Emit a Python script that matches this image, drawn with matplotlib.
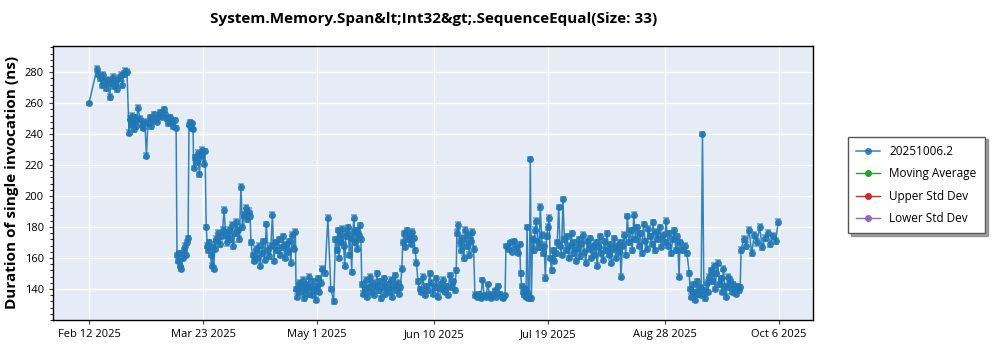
import numpy as np
import pandas as pd
import matplotlib
matplotlib.use("Agg")
import matplotlib.pyplot as plt
from matplotlib.ticker import AutoMinorLocator

plt.rcParams["font.family"] = ["Open Sans", "DejaVu Sans"]

base_date = pd.Timestamp("2025-02-12")

# Each run of results: first / last day (offset from Feb 12) and the timings in between
seg_start = [0, 2.7, 13.7, 17.5, 30.1, 34.2, 35.8, 40.1, 43.6, 55.4, 70.8, 80.7, 84.3,
             93.3, 107.3, 112.5, 125.8, 132.2, 142.6, 147.6, 151.7, 157.7, 181.9,
             202.1, 205.5, 223.0]
seg_end = [0, 13.0, 16.7, 29.8, 33.9, 35.6, 39.7, 43.4, 55.1, 70.6, 79.7, 83.7, 93.0,
           107.0, 112.0, 125.6, 132.0, 142.3, 147.3, 151.3, 157.4, 181.6, 201.8,
           205.3, 222.7, 235.7]
seg_values = [
    [260],
    [282, 279, 276, 272, 278, 274, 270, 275, 264, 273, 277, 271, 274, 269, 276, 278,
     272, 279, 281, 280],
    [241, 250, 246, 252, 248, 243, 251, 245, 249, 257],
    [250, 246, 244, 248, 226, 247, 251, 245, 249, 253, 250, 248, 252, 254, 251, 256,
     253, 250, 247, 251, 248, 245, 249, 244],
    [162, 158, 163, 155, 153, 160, 165, 168, 162, 170, 173],
    [246, 248, 244, 247, 243],
    [218, 225, 222, 228, 214, 226, 230, 221, 229],
    [180, 168, 165, 170, 162, 155, 167, 153, 166, 171],
    [172, 176, 169, 174, 178, 191, 175, 170, 178, 172, 181, 168, 176, 183, 178, 172,
     206, 180, 188, 192, 185, 190, 187],
    [170, 162, 158, 166, 160, 168, 155, 163, 171, 159, 182, 165, 161, 168, 188, 158,
     170, 165, 172, 162, 167, 174, 160, 169, 164, 171, 157, 175, 166, 177],
    [140, 135, 144, 138, 142, 146, 134, 139, 143, 137, 148, 141, 136, 145, 140, 133,
     142, 147, 138, 144, 153],
    [150, 186, 140, 132],
    [172, 165, 178, 160, 175, 170, 179, 168, 155, 174, 176, 180, 162, 173, 151, 177,
     186, 170, 178, 166, 175, 181, 172],
    [143, 137, 140, 146, 135, 141, 148, 138, 144, 136, 142, 150, 139, 145, 134, 141,
     147, 137, 143, 140, 138, 146, 135, 142, 149, 139, 144, 137, 141, 153],
    [170, 176, 167, 178, 172, 174, 169, 177, 173, 165, 157],
    [145, 140, 138, 148, 136, 142, 139, 150, 144, 137, 141, 147, 135, 143, 140, 146,
     138, 142, 136, 149, 141, 145, 139, 152],
    [176, 181, 170, 165, 173, 160, 178, 168, 175, 162, 171, 177, 166, 136],
    [136, 135, 137, 134, 146, 136, 135, 143, 137, 134, 136, 139, 135, 142, 137, 135,
     134, 136],
    [168, 166, 170, 164, 171, 167, 163, 169],
    [150, 142, 138, 136, 140, 135, 180, 137, 134, 224, 134],
    [172, 165, 178, 184, 170, 167, 193, 175, 163, 168, 147, 174, 180, 186],
    [160, 152, 165, 158, 163, 170, 193, 168, 162, 198, 172, 165, 174, 160, 168, 176,
     163, 170, 158, 166, 172, 161, 169, 175, 164, 157, 171, 166, 173, 160, 168, 162,
     170, 155, 167, 174, 163, 159, 171, 165, 176, 162, 169, 157, 166, 173, 160, 168,
     164, 170],
    [148, 168, 175, 162, 187, 170, 178, 165, 188, 172, 180, 168, 176, 163, 182, 171,
     166, 179, 174, 169, 183, 165, 177, 172, 180, 167, 175, 170, 184, 168, 176, 163,
     172, 178, 165, 174, 148],
    [170, 165, 168, 163, 150],
    [140, 135, 143, 138, 133, 145, 137, 141, 136, 240, 139, 134, 144, 138, 148, 152,
     145, 155, 140, 150, 157, 143, 147, 138, 153, 142, 135, 148, 141, 146, 138, 143,
     140, 137, 142, 139, 141],
    [165, 172, 168, 178, 163, 175, 170, 180, 167, 173, 176, 169, 174, 171, 183],
]
# typical error bar half-width per run (ns)
seg_err = [1.0, 2.0, 1.5, 1.5, 1.5, 1.0, 1.5, 1.5, 2.0, 1.5, 1.5, 1.5, 1.5,
           1.5, 1.5, 1.5, 2.0, 1.0, 1.0, 1.5, 2.0, 1.5, 1.5, 1.5, 1.5, 2.0]

tick_dates = ["2025-02-12", "2025-03-23", "2025-05-01", "2025-06-10",
              "2025-07-19", "2025-08-28", "2025-10-06"]

dates, values, errs = [], [], []
for s, e, vals, er in zip(seg_start, seg_end, seg_values, seg_err):
    days = np.linspace(s, e, len(vals))
    dates.extend(base_date + pd.to_timedelta(days, unit="D"))
    values.extend(vals)
    errs.extend([er] * len(vals))

blue = "#1f77b4"

fig = plt.figure(figsize=(10, 3.5), dpi=100)
ax = fig.add_axes([0.053, 0.086, 0.76, 0.783])
ax.set_facecolor("#e5ecf6")

ax.errorbar(dates, values, yerr=errs, fmt="none", ecolor=blue, alpha=0.6,
            elinewidth=1.2, capsize=2.5, capthick=1.2, zorder=2)
ax.plot(dates, values, color=blue, linewidth=1.1, alpha=0.9, marker="o",
        markersize=5, markeredgewidth=0, zorder=3, label="20251006.2")

# empty series, shown in the legend only
ax.plot([], [], color="#2ca02c", marker="o", markersize=4, linewidth=1, label="Moving Average")
ax.plot([], [], color="#d62728", marker="o", markersize=4, linewidth=1, label="Upper Std Dev")
ax.plot([], [], color="#9467bd", marker="o", markersize=4, linewidth=1, label="Lower Std Dev")

ax.set_ylim(120, 297)
ax.set_xlim(base_date - pd.Timedelta(days=12.3), base_date + pd.Timedelta(days=247.6))
ax.set_yticks([140, 160, 180, 200, 220, 240, 260, 280])
ax.yaxis.set_minor_locator(AutoMinorLocator(5))
xticks = pd.to_datetime(tick_dates)
ax.set_xticks(xticks)
ax.set_xticklabels([d.strftime("%b %-d %Y") for d in xticks])
ax.grid(True, color="white", linewidth=1.0)
ax.set_axisbelow(True)
ax.tick_params(axis="both", labelsize=8, length=3, color="#444444")
ax.tick_params(axis="y", which="minor", length=2)
for sp in ax.spines.values():
    sp.set_color("black")
    sp.set_linewidth(1.0)

ax.set_ylabel("Duration of single invocation (ns)", fontsize=11, fontweight="bold")
fig.text(0.434, 0.945, "System.Memory.Span&lt;Int32&gt;.SequenceEqual(Size: 33)",
         ha="center", va="center", fontsize=11, fontweight="bold")

leg = fig.legend(loc="upper left", bbox_to_anchor=(0.848, 0.61), fontsize=8.5,
                 frameon=True, fancybox=False, shadow=True, borderpad=0.7,
                 labelspacing=0.8, handlelength=2.0, borderaxespad=0)
leg.get_frame().set_edgecolor("#555555")
leg.get_frame().set_linewidth(1.0)

fig.savefig("out.png", dpi=100)
